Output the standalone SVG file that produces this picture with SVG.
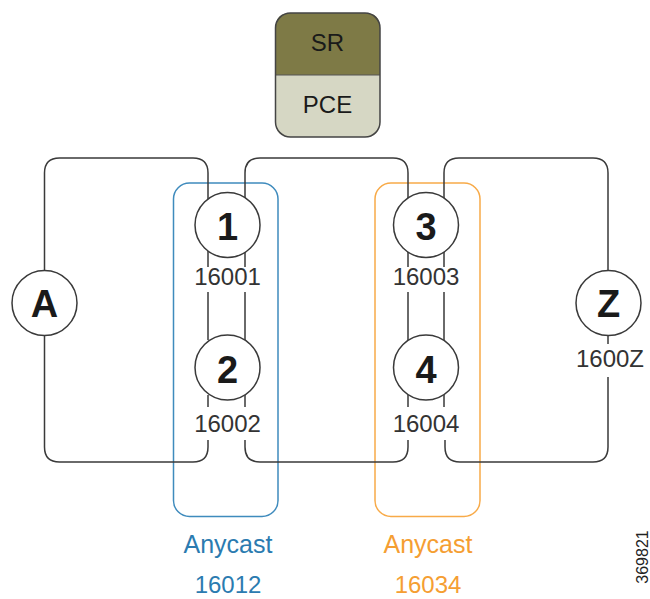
<svg xmlns="http://www.w3.org/2000/svg" width="650" height="599" viewBox="0 0 650 599">
<style>
.ln{fill:none;stroke:#3a3a3a;stroke-width:1.5}
.nd{fill:#fff;stroke:#3a3a3a;stroke-width:1.5}
.big{font-family:"Liberation Sans",Arial,sans-serif;font-weight:bold;font-size:38px;fill:#1a1a1a;text-anchor:middle}
.lbl{font-family:"Liberation Sans",Arial,sans-serif;font-size:24px;fill:#333;text-anchor:middle}
.pce{font-family:"Liberation Sans",Arial,sans-serif;font-size:24px;fill:#1a1a1a;text-anchor:middle}
.blue{fill:#2b7bb0}
.orange{fill:#f59e32}
</style>
<rect width="650" height="599" fill="#fff"/>
<g id="anycast-blue">
<rect x="173.5" y="183" width="104.5" height="333.5" rx="16" fill="none" stroke="#3f8bbd" stroke-width="1.5"/>
<text class="lbl blue" x="228" y="553" style="font-size:25px">Anycast</text>
<text class="lbl blue" x="228" y="593">16012</text>
</g>
<g id="anycast-orange">
<rect x="375" y="183" width="105" height="333.5" rx="16" fill="none" stroke="#f8aa48" stroke-width="1.5"/>
<text class="lbl orange" x="428" y="553" style="font-size:25px">Anycast</text>
<text class="lbl orange" x="428" y="593">16034</text>
</g>
<g id="connectors">
<path class="ln" d="M44.5,272 V173 Q44.5,158 59.5,158 H193 Q208,158 208,173 V200"/>
<path class="ln" d="M245,200 V173 Q245,158 260,158 H393 Q408,158 408,173 V200"/>
<path class="ln" d="M444,200 V173 Q444,158 459,158 H593 Q608,158 608,173 V272"/>
<path class="ln" d="M44.5,334 V447 Q44.5,462 59.5,462 H193 Q208,462 208,447 V440"/>
<path class="ln" d="M245,440 V447 Q245,462 260,462 H393 Q408,462 408,447 V440"/>
<path class="ln" d="M445,440 V447 Q445,462 460,462 H593 Q608,462 608,447 V377"/>
<path class="ln" d="M608,334 V344"/>
<path class="ln" d="M208,250 V267 M208,292 V340 M208,395 V407"/>
<path class="ln" d="M245,250 V267 M245,292 V340 M245,395 V407"/>
<path class="ln" d="M408,250 V267 M408,292 V340 M408,395 V407"/>
<path class="ln" d="M444,250 V267 M444,292 V340 M444,395 V407"/>
</g>
<g id="sr-pce">
<path d="M275.5,75 V28 Q275.5,13 290.5,13 H365 Q380,13 380,28 V75 Z" fill="#7e7a46"/>
<path d="M275.5,75 V122 Q275.5,137 290.5,137 H365 Q380,137 380,122 V75 Z" fill="#d6d7c4"/>
<line x1="275.5" y1="75" x2="380" y2="75" stroke="#555" stroke-width="1"/>
<rect x="275.5" y="13" width="104.5" height="124" rx="15" fill="none" stroke="#444" stroke-width="1.5"/>
<text class="pce" x="327.5" y="51">SR</text>
<text class="pce" x="327.5" y="113">PCE</text>
</g>
<g id="node-A">
<circle class="nd" cx="44.5" cy="303" r="32.5"/>
<text class="big" x="44.5" y="317">A</text>
</g>
<g id="node-1">
<circle class="nd" cx="227.5" cy="225" r="32.5"/>
<text class="big" x="227.5" y="239.5">1</text>
<text class="lbl" x="227.5" y="285">16001</text>
</g>
<g id="node-2">
<circle class="nd" cx="227.5" cy="367.5" r="32.5"/>
<text class="big" x="227.5" y="383">2</text>
<text class="lbl" x="227.5" y="432">16002</text>
</g>
<g id="node-3">
<circle class="nd" cx="426" cy="225" r="32.5"/>
<text class="big" x="426" y="239.5">3</text>
<text class="lbl" x="426" y="285">16003</text>
</g>
<g id="node-4">
<circle class="nd" cx="426" cy="367.5" r="32.5"/>
<text class="big" x="426" y="383">4</text>
<text class="lbl" x="426" y="432">16004</text>
</g>
<g id="node-Z">
<circle class="nd" cx="608.5" cy="303" r="32.5"/>
<text class="big" x="608.5" y="317">Z</text>
<text class="lbl" x="610" y="367">1600Z</text>
</g>
<text x="648" y="557" transform="rotate(-90 648 557)" style="font-family:'Liberation Sans',Arial,sans-serif;font-size:16px;fill:#222;text-anchor:middle">369821</text>
</svg>
